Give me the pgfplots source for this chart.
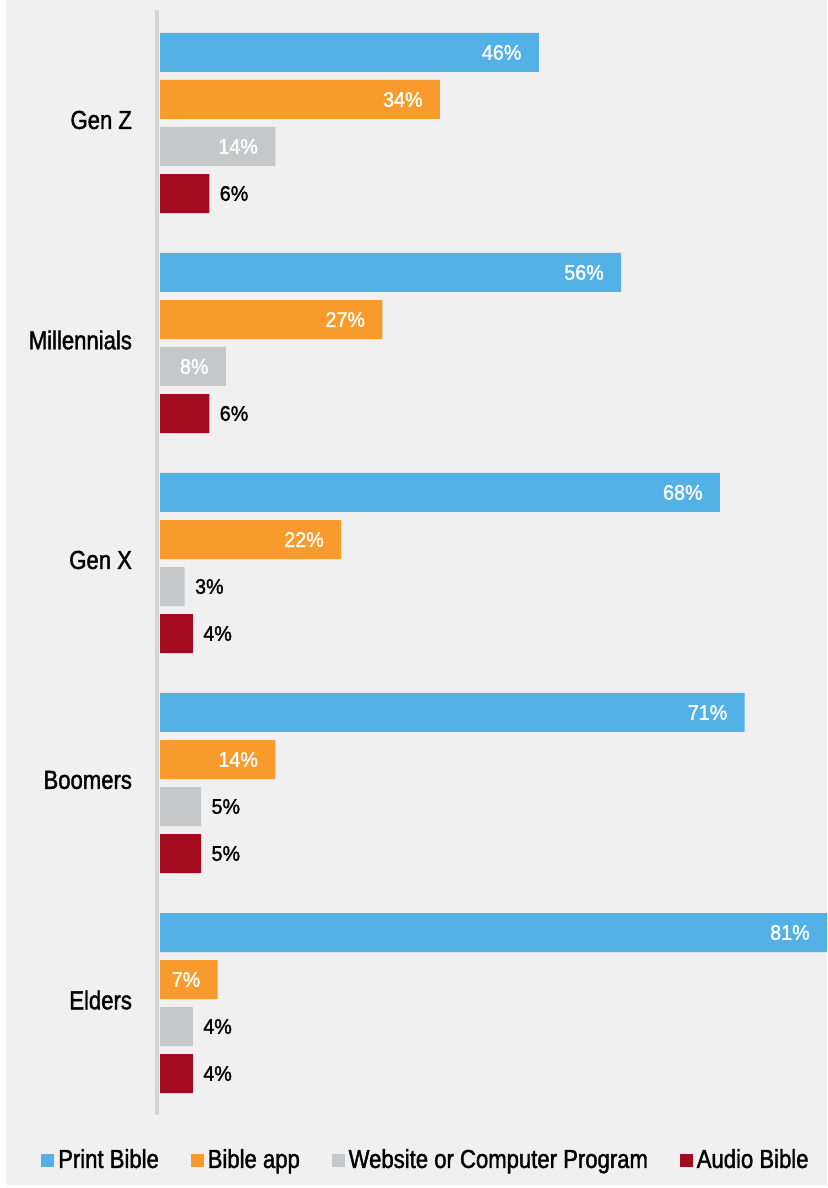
\documentclass[border=0pt]{standalone}
\usepackage{pgfplots}
\pgfplotsset{compat=1.18}
\usepackage{pgfplotstable}
\usepackage{fontspec}
\setmainfont{Liberation Sans}[FakeStretch=0.85, FakeBold=1.5]
\newfontfamily\valfont{Liberation Sans}[FakeStretch=0.93, FakeBold=1.5]
\usetikzlibrary{backgrounds}
\definecolor{cBlue}{HTML}{53B1E6}
\definecolor{cOrange}{HTML}{F99B2C}
\definecolor{cGray}{HTML}{C6C7C9}
\definecolor{cRed}{HTML}{A50B1E}
\definecolor{bg}{HTML}{F0F0F0}
\definecolor{axgray}{HTML}{D5D5D5}

\pgfplotstableread{
v g
46 0
56 1
68 2
71 3
81 4
}\tPrint
\pgfplotstableread{
v g
34 0
27 1
22 2
14 3
7 4
}\tApp
\pgfplotstableread{
v g
14 0
8 1
}\tWebIn
\pgfplotstableread{
v g
3 2
5 3
4 4
}\tWebOut
\pgfplotstableread{
v g
6 0
6 1
4 2
5 3
4 4
}\tAudio

\tikzset{
  inlab/.style={anchor=east, inner sep=0pt, xshift=-8.5pt, text=white, font=\valfont\fontsize{10.6}{12}\selectfont},
  outlab/.style={anchor=west, inner sep=0pt, xshift=5pt, text=black, font=\valfont\fontsize{10.6}{12}\selectfont},
}

\begin{document}
\begin{tikzpicture}
\begin{axis}[
  xbar,
  x=4.1175pt, y=110pt, y dir=reverse,
  xmin=-0.364, xmax=81, ymin=-0.514, ymax=4.509,
  axis x line=none, axis y line*=left,
  axis line style={draw=axgray, line width=2pt},
  ytick={0,1,2,3,4},
  yticklabels={Gen Z,Millennials,Gen X,Boomers,Elders},
  major tick length=0pt,
  yticklabel style={font=\fontsize{13}{15}\selectfont, anchor=east, xshift=-9pt, yshift=1.5pt},
  clip=false,
  /pgf/number format/assume math mode=true,
  bar width=0.17727,
  point meta=x,
  nodes near coords={\pgfmathprintnumber{\pgfplotspointmeta}\%},
  legend columns=4,
  legend cell align=left,
  legend style={at={(axis cs:32.42,4.7136)}, anchor=center, draw=none, fill=none,
    font=\fontsize{13}{15}\selectfont, inner sep=0pt,
    /tikz/every even column/.append style={column sep=14pt}},
]
\addplot[xbar, bar shift=-0.3205, fill=cBlue, draw=none, forget plot,
  nodes near coords style={inlab}] table[x=v,y=g]{\tPrint};
\addplot[xbar, bar shift=-0.1068, fill=cOrange, draw=none, forget plot,
  nodes near coords style={inlab}] table[x=v,y=g]{\tApp};
\addplot[xbar, bar shift=0.1068, fill=cGray, draw=none, forget plot,
  nodes near coords style={inlab}] table[x=v,y=g]{\tWebIn};
\addplot[xbar, bar shift=0.1068, fill=cGray, draw=none, forget plot,
  nodes near coords style={outlab}] table[x=v,y=g]{\tWebOut};
\addplot[xbar, bar shift=0.3205, fill=cRed, draw=none, forget plot,
  nodes near coords style={outlab}] table[x=v,y=g]{\tAudio};

\addlegendimage{legend image code/.code={\fill[cBlue] (0pt,-3pt) rectangle (6pt,3pt);}}
\addlegendentry{Print Bible}
\addlegendimage{legend image code/.code={\fill[cOrange] (0pt,-3pt) rectangle (6pt,3pt);}}
\addlegendentry{Bible app}
\addlegendimage{legend image code/.code={\fill[cGray] (0pt,-3pt) rectangle (6pt,3pt);}}
\addlegendentry{Website or Computer Program}
\addlegendimage{legend image code/.code={\fill[cRed] (0pt,-3pt) rectangle (6pt,3pt);}}
\addlegendentry{Audio Bible}

\coordinate (bgA) at (axis cs:-18.70,-0.5591);
\coordinate (bgB) at (axis cs:81,4.8273);
\coordinate (bbA) at (axis cs:-19.43,-0.5591);
\coordinate (bbB) at (axis cs:81,4.8409);
\end{axis}
\begin{scope}[on background layer]
\fill[bg] (bgA) rectangle (bgB);
\end{scope}
\pgfresetboundingbox
\useasboundingbox (bbA) rectangle (bbB);
\end{tikzpicture}
\end{document}
